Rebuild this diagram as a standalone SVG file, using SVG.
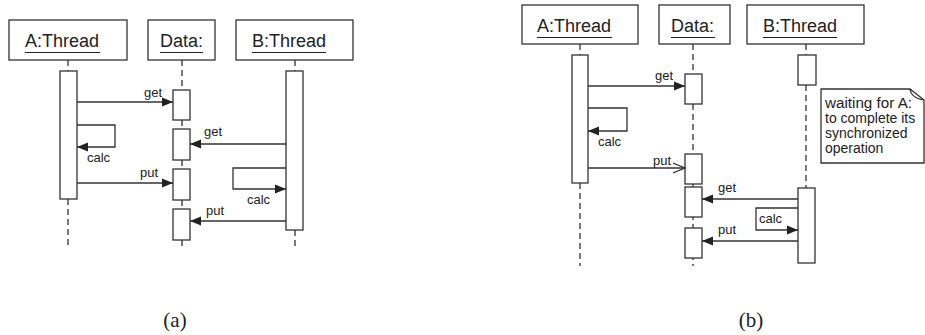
<svg xmlns="http://www.w3.org/2000/svg" width="925" height="335" viewBox="0 0 925 335">
<defs>
<style>
.box{fill:#fff;stroke:#333;stroke-width:1.3}
.act{fill:#fff;stroke:#333;stroke-width:1.3}
.life{stroke:#333;stroke-width:1.3;stroke-dasharray:6 4;fill:none}
.msg{stroke:#333;stroke-width:1.3;fill:none}
.hd{font-family:"Liberation Sans",Arial,sans-serif;font-size:18px;fill:#222}
.ul{stroke:#222;stroke-width:1.2}
.lb{font-family:"Liberation Sans",Arial,sans-serif;font-size:13px;fill:#222}
.nt{font-family:"Liberation Sans",Arial,sans-serif;font-size:14px;fill:#222}
.cap{font-family:"Liberation Serif","Times New Roman",serif;font-size:21px;fill:#222}
</style>
<marker id="fa" markerUnits="userSpaceOnUse" markerWidth="12" markerHeight="10" refX="11" refY="5" orient="auto">
<path d="M0,0.5 L11,5 L0,9.5 z" fill="#222"/>
</marker>
<marker id="oa" markerUnits="userSpaceOnUse" markerWidth="14" markerHeight="12" refX="12" refY="6" orient="auto">
<path d="M0,1 L12,6 L0,11" fill="none" stroke="#333" stroke-width="1.3"/>
</marker>
</defs>
<rect width="925" height="335" fill="#fff"/>

<!-- (a) lifelines -->
<g id="lifelines-a">
<line class="life" x1="68" y1="60" x2="68" y2="71"/>
<line class="life" x1="68" y1="199" x2="68" y2="248"/>
<line class="life" x1="182" y1="60" x2="182" y2="248"/>
<line class="life" x1="295" y1="60" x2="295" y2="71"/>
<line class="life" x1="295" y1="230" x2="295" y2="248"/>
</g>

<g id="a-A">
<rect class="box" x="9" y="20" width="118" height="40"/>
<text class="hd" x="25" y="47">A:Thread</text>
<line class="ul" x1="25" y1="52.5" x2="100" y2="52.5"/>
<rect class="act" x="60" y="71" width="17" height="128"/>
</g>
<g id="a-Data">
<rect class="box" x="148" y="20" width="67" height="40"/>
<text class="hd" x="160" y="47">Data:</text>
<line class="ul" x1="160" y1="52.5" x2="203" y2="52.5"/>
<rect class="act" x="173" y="90" width="17" height="30"/>
<rect class="act" x="173" y="129" width="17" height="31"/>
<rect class="act" x="173" y="169" width="17" height="31"/>
<rect class="act" x="173" y="209" width="17" height="31"/>
</g>
<g id="a-B">
<rect class="box" x="236" y="20" width="117" height="40"/>
<text class="hd" x="252" y="47">B:Thread</text>
<line class="ul" x1="252" y1="52.5" x2="326" y2="52.5"/>
<rect class="act" x="286" y="71" width="17" height="159"/>
</g>

<g id="connectors-a">
<line class="msg" x1="77" y1="102" x2="173" y2="102" marker-end="url(#fa)"/>
<text class="lb" x="144" y="97">get</text>
<path class="msg" d="M77,125 H115 V147 H77" marker-end="url(#fa)"/>
<text class="lb" x="87" y="162">calc</text>
<line class="msg" x1="286" y1="144" x2="190" y2="144" marker-end="url(#fa)"/>
<text class="lb" x="204" y="136">get</text>
<line class="msg" x1="77" y1="183" x2="173" y2="183" marker-end="url(#fa)"/>
<text class="lb" x="140" y="177">put</text>
<path class="msg" d="M286,168 H233 V189 H286" marker-end="url(#fa)"/>
<text class="lb" x="247" y="204">calc</text>
<line class="msg" x1="286" y1="221" x2="190" y2="221" marker-end="url(#fa)"/>
<text class="lb" x="206" y="215">put</text>
</g>

<!-- (b) lifelines -->
<g id="lifelines-b">
<line class="life" x1="580" y1="44" x2="580" y2="55"/>
<line class="life" x1="580" y1="183" x2="580" y2="266"/>
<line class="life" x1="693" y1="44" x2="693" y2="266"/>
<line class="life" x1="806" y1="44" x2="806" y2="55"/>
<line class="life" x1="806" y1="85" x2="806" y2="188"/>
</g>

<g id="b-A">
<rect class="box" x="522" y="5" width="116" height="39"/>
<text class="hd" x="537" y="32">A:Thread</text>
<line class="ul" x1="537" y1="37.5" x2="612" y2="37.5"/>
<rect class="act" x="572" y="55" width="16" height="128"/>
</g>
<g id="b-Data">
<rect class="box" x="659" y="5" width="71" height="39"/>
<text class="hd" x="671" y="32">Data:</text>
<line class="ul" x1="671" y1="37.5" x2="715" y2="37.5"/>
<rect class="act" x="685" y="74" width="17" height="30"/>
<rect class="act" x="685" y="154" width="17" height="30"/>
<rect class="act" x="685" y="187" width="17" height="30"/>
<rect class="act" x="685" y="228" width="17" height="30"/>
</g>
<g id="b-B">
<rect class="box" x="747" y="5" width="117" height="39"/>
<text class="hd" x="763" y="32">B:Thread</text>
<line class="ul" x1="763" y1="37.5" x2="837" y2="37.5"/>
<rect class="act" x="798" y="55" width="18" height="30"/>
<rect class="act" x="798" y="188" width="17" height="75"/>
</g>

<g id="b-note">
<path class="box" d="M821,89 H910 L924,100 V163 H821 Z"/>
<path d="M910,89 Q911,98 924,100" fill="none" stroke="#333" stroke-width="1.2"/>
<text class="nt" x="825" y="108" textLength="87" lengthAdjust="spacingAndGlyphs">waiting for A:</text>
<text class="nt" x="825" y="123">to complete its</text>
<text class="nt" x="825" y="138">synchronized</text>
<text class="nt" x="825" y="153">operation</text>
</g>

<g id="connectors-b">
<line class="msg" x1="588" y1="86" x2="685" y2="86" marker-end="url(#fa)"/>
<text class="lb" x="655" y="80">get</text>
<path class="msg" d="M588,108 H627 V131 H588" marker-end="url(#fa)"/>
<text class="lb" x="598" y="146">calc</text>
<line class="msg" x1="588" y1="168" x2="685" y2="168" marker-end="url(#oa)"/>
<text class="lb" x="653" y="165">put</text>
<line class="msg" x1="798" y1="199" x2="702" y2="199" marker-end="url(#fa)"/>
<text class="lb" x="718" y="192">get</text>
<path class="msg" d="M798,208 H756 V230 H798" marker-end="url(#fa)"/>
<text class="lb" x="759" y="223">calc</text>
<line class="msg" x1="798" y1="241" x2="702" y2="241" marker-end="url(#fa)"/>
<text class="lb" x="718" y="234">put</text>
</g>

<g id="captions">
<text class="cap" x="175" y="327" text-anchor="middle">(a)</text>
<text class="cap" x="751" y="327" text-anchor="middle">(b)</text>
</g>
</svg>
